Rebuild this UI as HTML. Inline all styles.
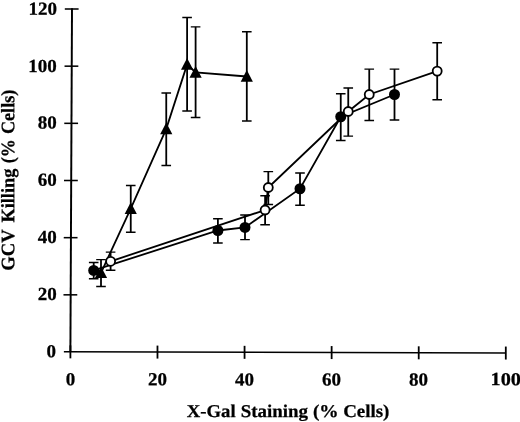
<!DOCTYPE html>
<html><head><meta charset="utf-8"><title>GCV Killing vs X-Gal Staining</title>
<style>html,body{margin:0;padding:0;background:#fff}svg{display:block}</style></head>
<body><svg width="520" height="422" viewBox="0 0 520 422">
<rect width="520" height="422" fill="#fff"/>
<g stroke="#000" stroke-width="1.8" fill="none" stroke-linecap="butt">
<path stroke-width="1.95" d="M72.0 8.3 L70.4 352"/>
<path stroke-width="1.65" d="M63.9 351.75 L505.8 352.95"/>
<path stroke-width="1.55" d="M63.47 294.83 H77.27"/>
<path stroke-width="1.55" d="M63.73 237.67 H77.53"/>
<path stroke-width="1.55" d="M64.00 180.50 H77.80"/>
<path stroke-width="1.55" d="M64.27 123.33 H78.07"/>
<path stroke-width="1.55" d="M64.53 66.17 H78.33"/>
<path stroke-width="1.55" d="M64.80 9.00 H78.60"/>
<path d="M70.40 345.35 V358.35"/>
<path d="M157.48 345.59 V358.59"/>
<path d="M244.56 345.83 V358.83"/>
<path d="M331.64 346.07 V359.07"/>
<path d="M418.72 346.31 V359.31"/>
<path d="M505.80 346.55 V359.55"/>
<path d="M101.00 259.60 V286.40"/>
<path stroke-width="1.45" d="M96.20 259.60 H105.80 M96.20 286.40 H105.80"/>
<path d="M130.75 185.50 V232.30"/>
<path stroke-width="1.45" d="M125.95 185.50 H135.55 M125.95 232.30 H135.55"/>
<path d="M166.25 92.90 V165.40"/>
<path stroke-width="1.45" d="M161.45 92.90 H171.05 M161.45 165.40 H171.05"/>
<path d="M187.10 17.50 V110.90"/>
<path stroke-width="1.45" d="M182.30 17.50 H191.90 M182.30 110.90 H191.90"/>
<path d="M195.60 26.85 V117.50"/>
<path stroke-width="1.45" d="M190.80 26.85 H200.40 M190.80 117.50 H200.40"/>
<path d="M246.80 31.75 V120.90"/>
<path stroke-width="1.45" d="M242.00 31.75 H251.60 M242.00 120.90 H251.60"/>
<path d="M93.70 262.50 V278.70"/>
<path stroke-width="1.45" d="M88.90 262.50 H98.50 M88.90 278.70 H98.50"/>
<path d="M217.90 218.75 V242.90"/>
<path stroke-width="1.45" d="M213.10 218.75 H222.70 M213.10 242.90 H222.70"/>
<path d="M245.00 215.00 V239.60"/>
<path stroke-width="1.45" d="M240.20 215.00 H249.80 M240.20 239.60 H249.80"/>
<path d="M300.00 173.00 V205.30"/>
<path stroke-width="1.45" d="M295.20 173.00 H304.80 M295.20 205.30 H304.80"/>
<path d="M340.75 93.75 V140.40"/>
<path stroke-width="1.45" d="M335.95 93.75 H345.55 M335.95 140.40 H345.55"/>
<path d="M394.50 69.10 V120.00"/>
<path stroke-width="1.45" d="M389.70 69.10 H399.30 M389.70 120.00 H399.30"/>
<path d="M110.60 252.10 V270.25"/>
<path stroke-width="1.45" d="M105.80 252.10 H115.40 M105.80 270.25 H115.40"/>
<path d="M265.10 195.75 V224.70"/>
<path stroke-width="1.45" d="M260.30 195.75 H269.90 M260.30 224.70 H269.90"/>
<path d="M268.30 171.60 V204.50"/>
<path stroke-width="1.45" d="M263.50 171.60 H273.10 M263.50 204.50 H273.10"/>
<path d="M348.25 87.90 V136.10"/>
<path stroke-width="1.45" d="M343.45 87.90 H353.05 M343.45 136.10 H353.05"/>
<path d="M369.25 69.10 V120.50"/>
<path stroke-width="1.45" d="M364.45 69.10 H374.05 M364.45 120.50 H374.05"/>
<path d="M437.20 42.70 V99.70"/>
<path stroke-width="1.45" d="M432.40 42.70 H442.00 M432.40 99.70 H442.00"/>
<polyline points="101.00,272.80 130.75,208.60 166.25,128.90 187.10,64.50 195.60,72.50 246.80,76.50"/>
<polyline points="93.70,270.40 217.90,230.50 245.00,227.40 300.00,188.75 340.75,116.75 394.50,94.50"/>
<polyline points="110.60,261.30 265.10,210.00 268.30,187.50 348.25,111.50 369.25,94.50 437.20,71.10"/>
</g>
<g fill="#000" stroke="none">
<path d="M101.00 266.40 L107.10 278.10 L94.90 278.10 Z"/>
<path d="M130.75 202.20 L136.85 213.90 L124.65 213.90 Z"/>
<path d="M166.25 122.50 L172.35 134.20 L160.15 134.20 Z"/>
<path d="M187.10 58.10 L193.20 69.80 L181.00 69.80 Z"/>
<path d="M195.60 66.10 L201.70 77.80 L189.50 77.80 Z"/>
<path d="M246.80 70.10 L252.90 81.80 L240.70 81.80 Z"/>
<circle cx="93.70" cy="270.40" r="5.5"/>
<circle cx="217.90" cy="230.50" r="5.5"/>
<circle cx="245.00" cy="227.40" r="5.5"/>
<circle cx="300.00" cy="188.75" r="5.5"/>
<circle cx="340.75" cy="116.75" r="5.5"/>
<circle cx="394.50" cy="94.50" r="5.5"/>
</g>
<g fill="#fff" stroke="#000" stroke-width="1.8">
<circle cx="110.60" cy="261.30" r="4.5"/>
<circle cx="265.10" cy="210.00" r="4.5"/>
<circle cx="268.30" cy="187.50" r="4.5"/>
<circle cx="348.25" cy="111.50" r="4.5"/>
<circle cx="369.25" cy="94.50" r="4.5"/>
<circle cx="437.20" cy="71.10" r="4.5"/>
</g>
<g font-family="'Liberation Serif', serif" font-weight="bold" font-size="18.4px" fill="#000" stroke="#000" stroke-width="0.25" transform="rotate(0.03 260 211)">
<text x="46.60" y="357.40" textLength="9.50" lengthAdjust="spacingAndGlyphs">0</text>
<text x="37.80" y="300.23" textLength="19.00" lengthAdjust="spacingAndGlyphs">20</text>
<text x="37.80" y="243.07" textLength="19.00" lengthAdjust="spacingAndGlyphs">40</text>
<text x="37.80" y="185.90" textLength="19.00" lengthAdjust="spacingAndGlyphs">60</text>
<text x="37.80" y="128.73" textLength="19.00" lengthAdjust="spacingAndGlyphs">80</text>
<text x="28.30" y="72.04" textLength="28.50" lengthAdjust="spacingAndGlyphs">100</text>
<text x="28.30" y="14.87" textLength="28.50" lengthAdjust="spacingAndGlyphs">120</text>
<text x="65.80" y="385.40" textLength="9.50" lengthAdjust="spacingAndGlyphs">0</text>
<text x="148.05" y="385.40" textLength="19.00" lengthAdjust="spacingAndGlyphs">20</text>
<text x="235.05" y="385.40" textLength="19.00" lengthAdjust="spacingAndGlyphs">40</text>
<text x="322.05" y="385.40" textLength="19.00" lengthAdjust="spacingAndGlyphs">60</text>
<text x="409.05" y="385.40" textLength="19.00" lengthAdjust="spacingAndGlyphs">80</text>
<text x="490.65" y="385.00" textLength="30.40" lengthAdjust="spacingAndGlyphs">100</text>
<text x="186.91" y="417.05" font-size="18.0px" textLength="48.78" lengthAdjust="spacingAndGlyphs">X-Gal</text>
<text x="240.75" y="417.05" font-size="18.0px" textLength="67.25" lengthAdjust="spacingAndGlyphs">Staining</text>
<text x="313.03" y="417.05" font-size="18.0px" textLength="25.71" lengthAdjust="spacingAndGlyphs">(%</text>
<text x="343.24" y="417.05" font-size="18.0px" textLength="46.27" lengthAdjust="spacingAndGlyphs">Cells)</text>
<g transform="translate(14.30 0) scale(1.06 1) rotate(-90)">
<text x="-270.84" y="0" font-size="18.0px" textLength="41.28" lengthAdjust="spacingAndGlyphs">GCV</text>
<text x="-222.68" y="0" font-size="18.0px" textLength="53.88" lengthAdjust="spacingAndGlyphs">Killing</text>
<text x="-163.32" y="0" font-size="18.0px" textLength="23.93" lengthAdjust="spacingAndGlyphs">(%</text>
<text x="-134.18" y="0" font-size="18.0px" textLength="44.36" lengthAdjust="spacingAndGlyphs">Cells)</text>
</g>
</g>
</svg></body></html>
